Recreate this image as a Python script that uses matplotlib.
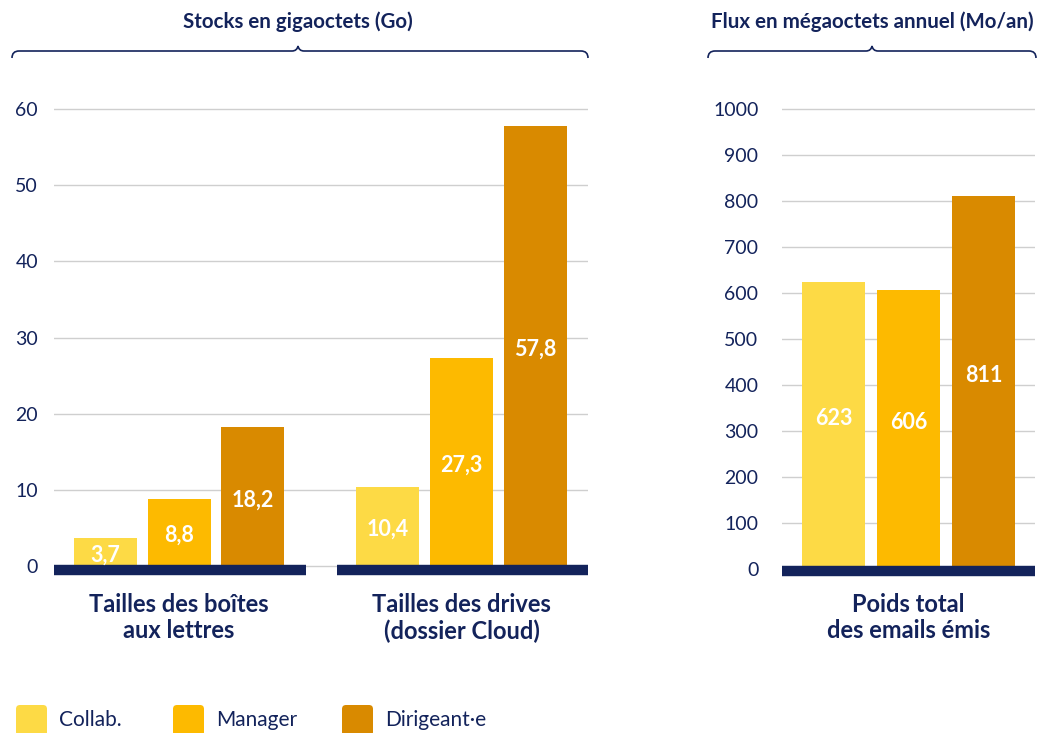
import matplotlib.pyplot as plt
import numpy as np
from matplotlib.path import Path
from matplotlib.patches import PathPatch, FancyBboxPatch

plt.rcParams['font.family'] = ['Lato', 'DejaVu Sans']

# données
series = ['Collab.', 'Manager', 'Dirigeant·e']
colors = ['#FDDA45', '#FDBA00', '#D98A00']
stock_cats = ['Tailles des boîtes\naux lettres', 'Tailles des drives\n(dossier Cloud)']
stock_vals = [[3.7, 10.4], [8.8, 27.3], [18.2, 57.8]]   # par série
flux_cat = ['Poids total\ndes emails émis']
flux_vals = [623, 606, 811]
stock_labels = [['3,7', '10,4'], ['8,8', '27,3'], ['18,2', '57,8']]
flux_labels = ['623', '606', '811']

navy = '#13235B'
grid_c = '#cfcfcf'

W, H = 1038, 733
fig = plt.figure(figsize=(W / 100, H / 100), dpi=100)


def fx(px):
    return px / W


def fy(py):
    return 1 - py / H


ax1 = fig.add_axes([fx(54), fy(580), fx(588 - 54), fy(100) - fy(580)])
ax2 = fig.add_axes([fx(782), fy(580), fx(1035 - 782), fy(100) - fy(580)])

# gauche : stocks
centers = np.array([0, 3.84])
w = 0.857
for i in range(3):
    x = centers + (i - 1)
    ax1.bar(x, stock_vals[i], width=w, color=colors[i], zorder=2)
    for xx, v, lab in zip(x, stock_vals[i], stock_labels[i]):
        ax1.text(xx, v / 2 - 0.4, lab, ha='center', va='center', color='white',
                 fontsize=15.5, fontweight='bold', zorder=4)
ax1.hlines(-0.55, -1.70, 1.73, color=navy, lw=7.5, zorder=3)
ax1.hlines(-0.55, 2.15, 5.56, color=navy, lw=7.5, zorder=3)
ax1.set_xlim(-1.70, 5.56)
ax1.set_ylim(-1.84, 61.2)
ax1.set_yticks(range(0, 61, 10))
ax1.set_xticks(centers)
ax1.set_xticklabels(stock_cats)

# droite : flux
x2 = np.arange(3) - 1
ax2.bar(x2, flux_vals, width=0.84, color=colors, zorder=2)
for xx, v, lab in zip(x2, flux_vals, flux_labels):
    ax2.text(xx, v / 2 + 15, lab, ha='center', va='center', color='white',
             fontsize=15.5, fontweight='bold', zorder=4)
ax2.hlines(-4, -1.687, 1.687, color=navy, lw=7.5, zorder=3)
ax2.set_xlim(-1.687, 1.687)
ax2.set_ylim(-23.9, 1019.6)
ax2.set_yticks(range(0, 1001, 100))
ax2.set_xticks([0])
ax2.set_xticklabels(flux_cat)

for ax, pad in ((ax1, 11.5), (ax2, 17)):
    for s in ax.spines.values():
        s.set_visible(False)
    ax.yaxis.grid(True, color=grid_c, lw=1, zorder=0)
    ax.set_axisbelow(True)
    ax.tick_params(axis='y', length=0, pad=pad, labelsize=14, labelcolor=navy)
    ax.tick_params(axis='x', length=0, pad=9, labelsize=17, labelcolor=navy)
    for t in ax.get_xticklabels():
        t.set_fontweight('bold')
        t.set_linespacing(1.2)
    for t in ax.get_yticklabels():
        t.set_color(navy)

# titres et accolades
fig.text(fx(298), fy(22), 'Stocks en gigaoctets (Go)', ha='center', va='center',
         fontsize=14.8, fontweight='bold', color=navy)
fig.text(fx(872), fy(22), 'Flux en mégaoctets annuel (Mo/an)', ha='center', va='center',
         fontsize=14.8, fontweight='bold', color=navy)


def brace(x0, x1, xm, y):
    pts = [(x0, y + 7), (x0, y), (x0 + 7, y),
           (xm - 6, y), (xm - 1, y), (xm, y - 5),
           (xm + 1, y), (xm + 6, y),
           (x1 - 7, y), (x1, y), (x1, y + 7)]
    codes = [Path.MOVETO, Path.CURVE3, Path.CURVE3,
             Path.LINETO, Path.CURVE3, Path.CURVE3,
             Path.CURVE3, Path.CURVE3,
             Path.LINETO, Path.CURVE3, Path.CURVE3]
    verts = [(fx(a), fy(b)) for a, b in pts]
    fig.add_artist(PathPatch(Path(verts, codes), fill=False, ec=navy, lw=1.2,
                             transform=fig.transFigure))


brace(12, 588, 298, 51)
brace(708, 1036, 872, 51)

# légende
leg_x = [16, 173, 342]
for xs, c, name in zip(leg_x, colors, series):
    fig.add_artist(FancyBboxPatch((xs / 100, (H - 736) / 100), 0.31, 0.31,
                                  boxstyle='round,pad=0,rounding_size=0.04',
                                  fc=c, ec='none', transform=fig.dpi_scale_trans))
    fig.text(fx(xs + 43), fy(720), name, ha='left', va='center',
             fontsize=15, color=navy)

fig.savefig('out.png', dpi=100)
